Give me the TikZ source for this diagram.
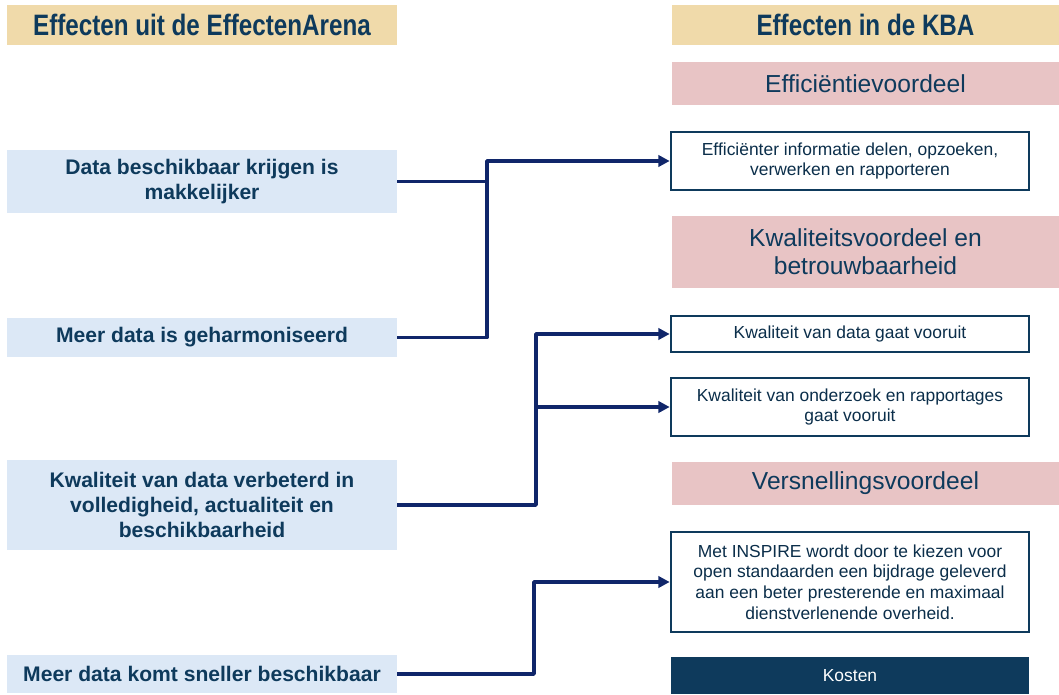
\documentclass[tikz,border=0pt]{standalone}
\usepackage{fontspec}
\setmainfont{Liberation Sans}
\newfontfamily\headfont[FakeStretch=0.82]{Liberation Sans}
\usetikzlibrary{arrows.meta}
\definecolor{donkerblauw}{HTML}{0E3A5C}
\definecolor{lijnblauw}{HTML}{10266A}
\definecolor{perkament}{HTML}{F0DAAA}
\definecolor{lichtblauw}{HTML}{DCE8F6}
\definecolor{roze}{HTML}{E8C4C5}
\begin{document}
\begin{tikzpicture}[x=0.025cm,y=-0.025cm,
		kop/.style={fill=perkament,minimum width=9.75cm,minimum height=1cm,inner sep=0pt,text=donkerblauw,font={\headfont\bfseries\fontsize{21}{24}\selectfont}},
		arena/.style={fill=lichtblauw,minimum width=9.75cm,inner sep=0pt,align=center,text=donkerblauw,font={\bfseries\fontsize{15}{18}\selectfont}},
		voordeel/.style={fill=roze,minimum width=9.675cm,inner sep=0pt,align=center,text=donkerblauw,font={\fontsize{17.5}{20}\selectfont}},
		effect/.style={draw=donkerblauw,line width=1.8pt,fill=white,minimum width=8.95cm,inner sep=0pt,align=center,text=donkerblauw!80!black,font={\fontsize{12.4}{14.6}\selectfont}},
		kosten/.style={fill=donkerblauw,minimum width=8.95cm,minimum height=0.925cm,inner sep=0pt,text=white,font={\fontsize{12.4}{14.6}\selectfont}},
		verbinding/.style={draw=lijnblauw,line width=2.6pt,line join=round},
		pijl/.style={verbinding,-{Triangle[length=8pt,width=8pt]}}]
	\useasboundingbox (0,0) rectangle (1059,695);
	\node[kop] (kopL) at (202,25) {Effecten uit de EffectenArena};
	\node[kop,minimum width=9.675cm] (kopR) at (865.5,25) {Effecten in de KBA};
	\node[arena,minimum height=1.575cm] (makkelijker) at (202,181.5) {Data beschikbaar krijgen is\\makkelijker};
	\node[arena,minimum height=0.975cm] (geharmoniseerd) at (202,337.5) {Meer data is geharmoniseerd};
	\node[arena,minimum height=2.25cm] (verbeterd) at (202,505) {Kwaliteit van data verbeterd in\\volledigheid, actualiteit en\\beschikbaarheid};
	\node[arena,minimum height=0.95cm] (sneller) at (202,674) {Meer data komt sneller beschikbaar};
	\node[voordeel,minimum height=1.075cm] (efficientie) at (865.5,83.5) {Efficiëntievoordeel};
	\node[voordeel,minimum height=1.8cm] (kwaliteit) at (865.5,252) {Kwaliteitsvoordeel en\\betrouwbaarheid};
	\node[voordeel,minimum height=1.075cm] (versnelling) at (865.5,483.5) {Versnellingsvoordeel};
	\node[effect,minimum height=1.45cm] (delen) at (850,161) {Efficiënter informatie delen, opzoeken,\\verwerken en rapporteren};
	\node[effect,minimum height=0.9cm] (datavooruit) at (850,334) {Kwaliteit van data gaat vooruit};
	\node[effect,minimum height=1.45cm] (onderzoek) at (850,407) {Kwaliteit van onderzoek en rapportages\\gaat vooruit};
	\node[effect,minimum height=2.5cm] (inspire) at (850,582) {Met INSPIRE wordt door te kiezen voor\\open standaarden een bijdrage geleverd\\aan een beter presterende en maximaal\\dienstverlenende overheid.};
	\node[kosten] (kostenbalk) at (850,675.5) {Kosten};
	\coordinate (knik1) at (487,0);
	\coordinate (knik2) at (536,0);
	\coordinate (knik3) at (534,0);
	\draw[verbinding] (makkelijker.east) -- (makkelijker.east -| knik1);
	\draw[pijl] (geharmoniseerd.east) -- (geharmoniseerd.east -| knik1) |- (delen.west);
	\draw[pijl] (verbeterd.east) -- (verbeterd.east -| knik2) |- (datavooruit.west);
	\draw[pijl] (onderzoek.west -| knik2) -- (onderzoek.west);
	\draw[pijl] (sneller.east) -- (sneller.east -| knik3) |- (inspire.west);
\end{tikzpicture}
\end{document}
